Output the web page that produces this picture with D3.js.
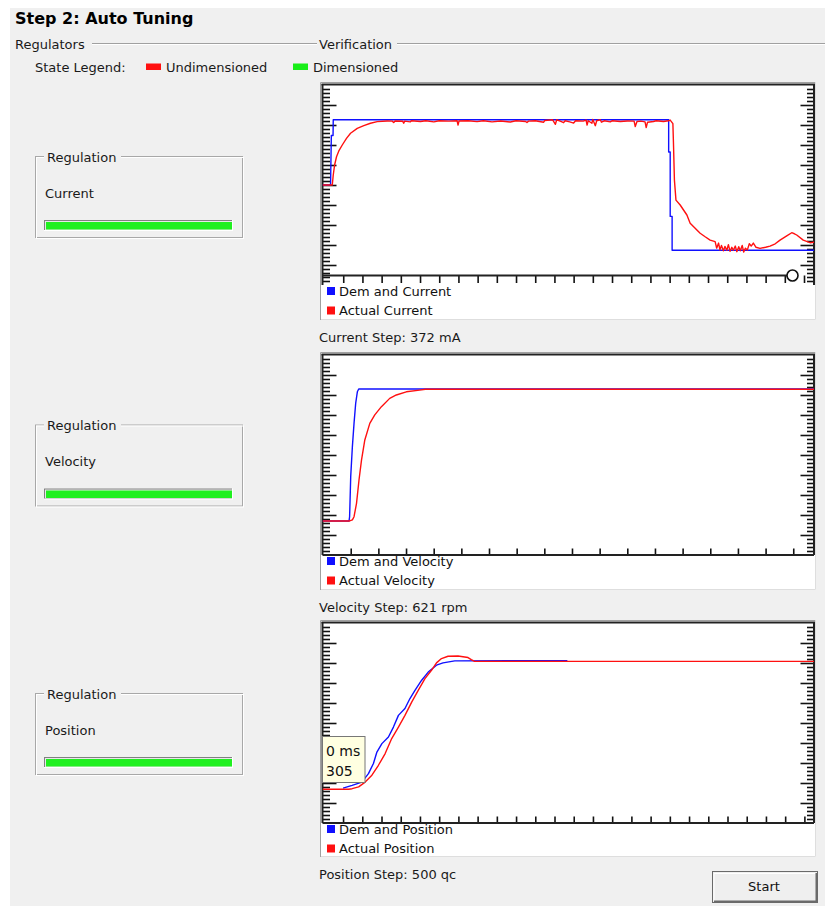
<!DOCTYPE html>
<html><head><meta charset="utf-8">
<script src="https://cdn.jsdelivr.net/npm/d3@7"></script>
<style>
html,body{margin:0;padding:0;background:#fff;}
svg{display:block;font-family:"DejaVu Sans",sans-serif;}
</style></head><body>
<svg id="c" width="825" height="906"></svg>
<script>
// ---------------- DATA ----------------
const title = "Step 2: Auto Tuning";
const groupTitles = ["Regulators", "Verification"];
const stateLegend = ["Undimensioned", "Dimensioned"];
const regulators = ["Current", "Velocity", "Position"];
const seriesNames = [
  ["Dem and Current", "Actual Current"],
  ["Dem and Velocity", "Actual Velocity"],
  ["Dem and Position", "Actual Position"]
];
const stepLabels = ["Current Step: 372 mA", "Velocity Step: 621 rpm", "Position Step: 500 qc"];
const tooltipLines = ["0 ms", "305"];
const buttonLabel = "Start";

// time in axis divisions, values in mA / rpm / qc
const timeDomains = [[-1.08, 24.52], [-1.02, 16.75], [-1.07, 24.5]];
const valueDomains = [[-570, 570], [-471.5, 471.5], [-392.7, 392.7]];
const timeTicks = [d3.range(0, 25), d3.range(0, 17), d3.range(0, 25)];
const cursorTime = 23.4; // marker on chart 1 time axis

const currentDemand = [[-1.08,0],[-0.66,0],[-0.62,282],[-0.53,282],[-0.52,372],[16.95,372],[16.95,188],[17.03,188],[17.03,-179],[17.13,-179],[17.13,-372],[24.52,-372]];
const currentActual = [[-1.08,0],[-0.57,0],[-0.52,57],[-0.45,114],[-0.35,161],[-0.23,194],[-0.05,228],[0.17,266],[0.38,295],[0.73,323],[1.07,338],[1.42,352],[1.77,361],[2.29,365],
[2.55,364],[2.63,356],[2.7,365],[3.1,363],[3.15,352],[3.2,364],[3.5,360],[3.55,366],[4.02,362],[4.3,366],[4.72,360],[5.0,366],[5.5,364],[5.93,366],[5.98,342],[6.03,365],[6.5,366],[6.97,361],[7.3,366],[7.75,360],[8.2,365],[8.7,359],[9.0,366],[9.5,362],[9.57,356],[9.65,364],[10.0,366],[10.44,358],[10.5,368],[10.9,372],[11.05,346],[11.12,372],[11.3,364],[11.48,355],[11.55,366],[11.8,360],[12.0,353],[12.1,366],[12.5,364],[12.65,370],[12.7,342],[12.76,366],[12.95,352],[13.0,374],[13.13,338],[13.2,366],[13.39,372],[13.45,358],[13.6,366],[13.91,360],[14.0,366],[14.43,362],[14.8,365],[15.15,364],[15.21,333],[15.3,362],[15.5,364],[15.72,360],[15.78,327],[15.85,358],[16.16,362],[16.3,366],[16.68,362],[16.94,366],[17.03,370],
[17.17,350],[17.2,238],[17.25,28],[17.33,-86],[17.55,-114],[17.9,-171],[18.07,-218],[18.33,-247],[18.59,-275],[18.85,-295],[19.11,-314],[19.37,-323],
[19.45,-360],[19.55,-331],[19.62,-370],[19.7,-345],[19.8,-375],[19.88,-350],[19.98,-372],[20.06,-340],[20.15,-378],[20.24,-355],[20.32,-372],[20.42,-348],[20.5,-380],[20.6,-352],[20.68,-375],[20.78,-345],[20.86,-382],[20.95,-360],[21.05,-370],[21.15,-335],[21.25,-348],[21.36,-331],[21.5,-355],[21.71,-361],[22.0,-355],[22.23,-348],[22.5,-335],[22.75,-314],[23.1,-290],[23.36,-272],[23.5,-278],[23.62,-285],[23.96,-314],[24.31,-329],[24.52,-326]];

const velocityDemand = [[-1.02,-311],[-0.06,-311],[-0.04,-291],[0,-102],[0.06,39],[0.12,149],[0.18,244],[0.24,298],[0.29,311],[16.75,311]];
const velocityActual = [[-1.02,-311],[-0.04,-311],[0.06,-306],[0.12,-291],[0.21,-228],[0.3,-118],[0.39,-24],[0.51,71],[0.69,149],[0.87,189],[1.11,228],[1.41,267],[1.65,283],[2.01,298],[2.49,306],[2.7,310],[16.75,310]];

const positionDemand = [[0,-256],[0.47,-245],[0.98,-232],[1.32,-199],[1.58,-159],[1.76,-114],[2.02,-81],[2.36,-55],[2.62,-16],[2.88,30],[3.22,57],[3.48,96],[3.74,128],[4.09,168],[4.43,200],[4.86,227],[5.2,236],[5.81,244],[11.67,245]];
const positionActual = [[-1.07,-260],[0.29,-260],[0.47,-258],[0.81,-251],[1.15,-232],[1.5,-205],[1.84,-166],[2.19,-120],[2.53,-61],[2.88,-16],[3.22,30],[3.57,82],[3.91,128],[4.26,174],[4.6,207],[4.86,236],[5.12,253],[5.46,262],[5.98,263],[6.5,257],[6.67,249],[6.84,242],[24.5,242]];

const chartSeries = [
  [currentDemand, currentActual],
  [velocityDemand, velocityActual],
  [positionDemand, positionActual]
];
const seriesColors = ["#1010ff", "#ff1010"];

// ---------------- LAYOUT ----------------
const svg = d3.select("#c");
const FONT = 13;
svg.append("rect").attr("x",10).attr("y",8).attr("width",815).attr("height",898).attr("fill","#f0f0f0");

svg.append("text").attr("x",15).attr("y",18).attr("dominant-baseline","central")
  .attr("font-weight","bold").attr("font-size",16).attr("fill","#000").text(title);

// group headers with etched lines
function etched(x1,x2,y){
  svg.append("line").attr("x1",x1).attr("x2",x2).attr("y1",y).attr("y2",y).attr("stroke","#a0a0a0");
  svg.append("line").attr("x1",x1).attr("x2",x2).attr("y1",y+1).attr("y2",y+1).attr("stroke","#fff");
}
etched(92,317,43.5);
etched(397,825,43.5);
svg.append("text").attr("x",15).attr("y",44).attr("dominant-baseline","central").attr("font-size",FONT).attr("fill","#1a1a1a").text(groupTitles[0]);
svg.append("text").attr("x",319).attr("y",44).attr("dominant-baseline","central").attr("font-size",FONT).attr("fill","#1a1a1a").text(groupTitles[1]);

// state legend
svg.append("text").attr("x",35).attr("y",67).attr("dominant-baseline","central").attr("font-size",FONT).attr("fill","#1a1a1a").text("State Legend:");
const stateColors = ["#ff1010","#18ee18"];
const stateX = [146, 293];
stateLegend.forEach((s,i)=>{
  svg.append("rect").attr("x",stateX[i]).attr("y",63.5).attr("width",15).attr("height",6.5).attr("fill",stateColors[i]);
  svg.append("text").attr("x",stateX[i]+20).attr("y",67).attr("dominant-baseline","central").attr("font-size",FONT).attr("fill","#1a1a1a").text(s);
});

// regulation boxes
regulators.forEach((r,i)=>{
  const top = 156 + i*268.5;
  const g = svg.append("g");
  g.append("rect").attr("x",35.5).attr("y",top+0.5).attr("width",207).attr("height",81).attr("fill","none").attr("stroke","#a8a8a8");
  g.append("rect").attr("x",36.5).attr("y",top+1.5).attr("width",207).attr("height",81).attr("fill","none").attr("stroke","#fff");
  g.append("rect").attr("x",44).attr("y",top-6).attr("width",77).attr("height",14).attr("fill","#f0f0f0");
  g.append("text").attr("x",47).attr("y",top+1).attr("dominant-baseline","central").attr("font-size",FONT).attr("fill","#1a1a1a").text("Regulation");
  g.append("text").attr("x",45).attr("y",top+37).attr("dominant-baseline","central").attr("font-size",FONT).attr("fill","#1a1a1a").text(r);
  g.append("rect").attr("x",44).attr("y",top+64).attr("width",189).attr("height",11).attr("fill","#fff");
  g.append("rect").attr("x",44).attr("y",top+64).attr("width",188).attr("height",10).attr("fill","#808080");
  g.append("rect").attr("x",45).attr("y",top+65).attr("width",187).attr("height",9).attr("fill","#e8e8e8");
  g.append("rect").attr("x",46).attr("y",top+66).attr("width",186).attr("height",7.5).attr("fill","#20f020");
});

// charts
const charts = [
  {boxTop:82, plotTop:85, plotBottom:285, axisY:275.5, down:true, boxBottom:320, labelY:337},
  {boxTop:352, plotTop:355, plotBottom:555, axisY:555, down:false, boxBottom:590, labelY:607},
  {boxTop:620, plotTop:623, plotBottom:823, axisY:823, down:false, boxBottom:857, labelY:874.5}
];
const plotLeft = 322.5, plotRight = 814;

charts.forEach((c,ci)=>{
  const g = svg.append("g");
  // box
  g.append("rect").attr("x",320).attr("y",c.boxTop).attr("width",496).attr("height",c.boxBottom-c.boxTop).attr("fill","#fff");
  g.append("path").attr("d",`M320.5,${c.boxBottom}V${c.boxTop+0.5}H816`).attr("fill","none").attr("stroke","#a0a0a0");
  g.append("path").attr("d",`M321,${c.boxBottom-0.5}H815.5V${c.boxTop}`).attr("fill","none").attr("stroke","#dedede");

  const x = d3.scaleLinear().domain(timeDomains[ci]).range([plotLeft, plotRight]);
  const y = d3.scaleLinear().domain(valueDomains[ci]).range([c.plotBottom, c.plotTop]);

  const clipId = "clip"+ci;
  svg.append("clipPath").attr("id",clipId).append("rect")
    .attr("x",plotLeft).attr("y",c.plotTop).attr("width",plotRight-plotLeft).attr("height",c.plotBottom-c.plotTop);

  // y ticks
  const [d0,d1] = valueDomains[ci];
  const all = d3.range(1,50).map(i=>d0 + i*(d1-d0)/50);
  const majors = all.filter((v,i)=>(i+1)%5===0);
  const minors = all.filter((v,i)=>(i+1)%5!==0);
  function yAxes(vals, len){
    const l = g.append("g").attr("transform",`translate(${plotLeft},0)`)
      .call(d3.axisRight(y).tickValues(vals).tickSize(len).tickFormat(""));
    const r = g.append("g").attr("transform",`translate(${plotRight},0)`)
      .call(d3.axisLeft(y).tickValues(vals).tickSize(len-0.5).tickFormat(""));
    [l,r].forEach(a=>{a.select(".domain").remove(); a.selectAll("line").attr("stroke","#111").attr("stroke-width",1.6);});
  }
  yAxes(minors, 7.5);
  yAxes(majors, 14);

  // x axis
  const xa = g.append("g").attr("transform",`translate(0,${c.axisY})`)
    .call((c.down ? d3.axisBottom(x) : d3.axisTop(x)).tickValues(timeTicks[ci]).tickSize(c.down?7.5:6.5).tickFormat(""));
  xa.select(".domain").remove();
  xa.selectAll("line").attr("stroke","#111").attr("stroke-width",1.6);

  // frame
  g.append("line").attr("x1",plotLeft-1).attr("x2",plotRight+1).attr("y1",c.plotTop-0.5).attr("y2",c.plotTop-0.5).attr("stroke","#222").attr("stroke-width",2);
  g.append("line").attr("x1",plotLeft).attr("x2",plotLeft).attr("y1",c.plotTop-1).attr("y2",c.plotBottom).attr("stroke","#222").attr("stroke-width",2);
  g.append("line").attr("x1",plotRight).attr("x2",plotRight).attr("y1",c.plotTop-1).attr("y2",c.plotBottom).attr("stroke","#222").attr("stroke-width",2);
  const axisEnd = c.down ? x(cursorTime)-5.5 : plotRight;
  g.append("line").attr("x1",plotLeft).attr("x2",axisEnd).attr("y1",c.axisY).attr("y2",c.axisY).attr("stroke","#222").attr("stroke-width",2);

  // series
  const line = d3.line().x(d=>x(d[0])).y(d=>y(d[1]));
  const lg = g.append("g").attr("clip-path",`url(#${clipId})`);
  chartSeries[ci].forEach((s,si)=>{
    lg.append("path").datum(s).attr("d",line).attr("fill","none")
      .attr("stroke",seriesColors[si]).attr("stroke-width",1.4).attr("stroke-linejoin","round");
  });

  if (c.down){
    g.append("circle").attr("cx",x(cursorTime)).attr("cy",c.axisY).attr("r",5.5)
      .attr("fill","#fff").attr("stroke","#111").attr("stroke-width",1.6);
  }

  // legend
  seriesNames[ci].forEach((n,si)=>{
    const ly = c.plotBottom + 6 + si*19.5;
    g.append("rect").attr("x",327).attr("y",ly-4).attr("width",8).attr("height",8).attr("fill",seriesColors[si]);
    g.append("text").attr("x",339).attr("y",ly).attr("dominant-baseline","central").attr("font-size",FONT).attr("fill","#111").text(n);
  });

  // step label
  svg.append("text").attr("x",319).attr("y",c.labelY).attr("dominant-baseline","central").attr("font-size",FONT).attr("fill","#1a1a1a").text(stepLabels[ci]);

  // tooltip on position chart
  if (ci===2){
    const tg = g.append("g");
    tg.append("rect").attr("x",322.5).attr("y",736.5).attr("width",42.5).attr("height",46).attr("fill","#ffffe1").attr("stroke","#777");
    tooltipLines.forEach((t,k)=>{
      tg.append("text").attr("x",326).attr("y",751+k*20).attr("dominant-baseline","central").attr("font-size",14).attr("fill","#111").text(t);
    });
  }
});

// Start button
const b = svg.append("g");
b.append("rect").attr("x",712.5).attr("y",871.5).attr("width",105).attr("height",31).attr("fill","#efefef").attr("stroke","#6a6a6a");
b.append("path").attr("d","M714,901V873.5H816").attr("fill","none").attr("stroke","#fff");
b.append("path").attr("d","M714,901.5H816.5V873").attr("fill","none").attr("stroke","#6a6a6a").attr("stroke-width",2);
b.append("text").attr("x",764).attr("y",886.5).attr("text-anchor","middle").attr("dominant-baseline","central").attr("font-size",FONT).attr("fill","#111").text(buttonLabel);
</script>
</body></html>
